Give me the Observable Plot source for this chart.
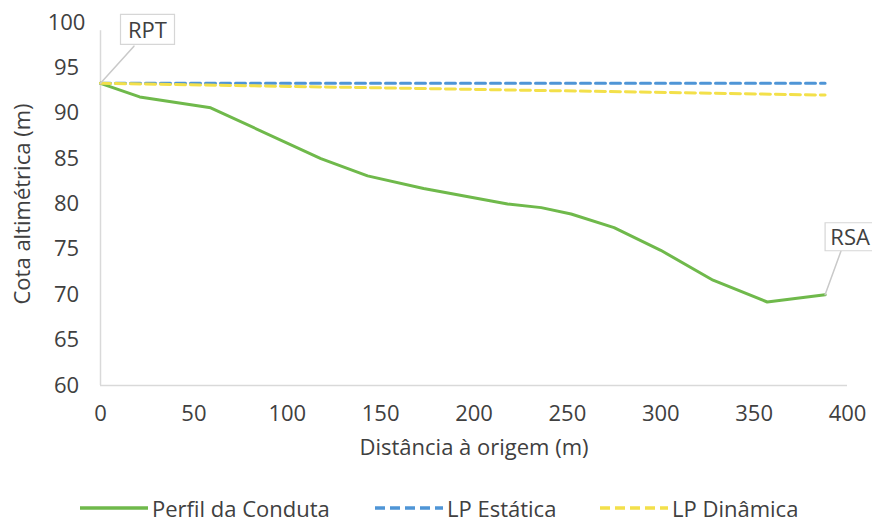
<!DOCTYPE html>
<html>
<head>
<meta charset="utf-8">
<script src="https://cdn.jsdelivr.net/npm/d3@7"></script>
<script src="https://cdn.jsdelivr.net/npm/@observablehq/plot@0.6"></script>
<style>
  html, body { margin: 0; padding: 0; background: #fff; }
  #wrap { position: relative; width: 872px; height: 524px; overflow: hidden; font-family: "Open Sans", sans-serif; color: #404040; }
  .leg { position: absolute; top: 493px; height: 30px; line-height: 30px; display: flex; align-items: center; font-size: 22px; color: #404040; white-space: nowrap; }
  .leg svg { margin-right: 4px; }
</style>
</head>
<body>
<div id="wrap"></div>
<script>
// ---- data ----
const distancia = [0, 21, 59, 118, 143, 173, 218, 236, 252, 275, 300, 328, 357, 388];
const perfil    = [93.3, 91.8, 90.6, 85.0, 83.1, 81.7, 80.0, 79.6, 78.9, 77.4, 74.9, 71.6, 69.2, 70.0];
const lpDistancia = [0, 388];
const lpEstatica  = [93.3, 93.3];
const lpDinamica  = [93.3, 92.0];
const seriesNames = ["Perfil da Conduta", "LP Estática", "LP Dinâmica"];
const seriesColors = ["#6fb94b", "#4f95d6", "#f3e04a"];
const xTicks = [0, 50, 100, 150, 200, 250, 300, 350, 400];
const yTicks = [60, 65, 70, 75, 80, 85, 90, 95, 100];
const pontos = [
  {label: "RPT", x: 0, y: 93.3},
  {label: "RSA", x: 388, y: 70.0}
];
const xLabel = "Distância à origem (m)";
const yLabel = "Cota altimétrica (m)";

// ---- build tables ----
const perfilData = distancia.map((d, i) => ({x: d, y: perfil[i]}));
const estData = lpDistancia.map((d, i) => ({x: d, y: lpEstatica[i]}));
const dinData = lpDistancia.map((d, i) => ({x: d, y: lpDinamica[i]}));

const leader = {draw(ctx, l) { ctx.moveTo(0, 0); ctx.lineTo(0, -l); }};
const boxRPT = {draw(ctx) { ctx.rect(-27, -15, 54, 30); }};
const boxRSA = {draw(ctx) { ctx.rect(-25, -14, 50, 28); }};

const chart = Plot.plot({
  width: 872,
  height: 470,
  marginLeft: 100,
  marginRight: 25,
  marginTop: 22,
  marginBottom: 85,
  style: {fontFamily: "Open Sans, sans-serif", fontSize: "22px", color: "#404040", background: "#fff", overflow: "visible"},
  x: {domain: [0, 400], ticks: xTicks, label: null},
  y: {domain: [60, 100], ticks: yTicks, label: null},
  marks: [
    Plot.ruleY([60], {stroke: "#d9d9d9", strokeWidth: 1.5}),
    Plot.ruleX([0], {y1: 99.1, y2: 60, stroke: "#d9d9d9", strokeWidth: 1.5}),
    Plot.axisX({ticks: xTicks, tickSize: 0, tickPadding: 20, fontSize: 22, label: null}),
    Plot.axisY({ticks: yTicks, tickSize: 0, tickPadding: 34, textAnchor: "middle", fontSize: 22, label: null}),
    Plot.text([xLabel], {frameAnchor: "bottom", textAnchor: "middle", dy: 62, lineAnchor: "middle", fontSize: 22, fill: "#404040"}),
    Plot.text([yLabel], {frameAnchor: "left", textAnchor: "middle", dx: -78, rotate: -90, lineAnchor: "middle", fontSize: 22, fill: "#404040"}),
    Plot.line(perfilData, {x: "x", y: "y", stroke: seriesColors[0], strokeWidth: 3}),
    Plot.line(estData, {x: "x", y: "y", stroke: seriesColors[1], strokeWidth: 3, strokeDasharray: "10,5"}),
    Plot.line(dinData, {x: "x", y: "y", stroke: seriesColors[2], strokeWidth: 3, strokeDasharray: "10,5"}),
    // callouts
    Plot.vector([pontos[0]], {x: "x", y: "y", length: 50, rotate: 42, anchor: "start", shape: leader, stroke: "#c9c9c9", strokeWidth: 1.5}),
    Plot.vector([pontos[1]], {x: "x", y: "y", length: 47, rotate: 20, anchor: "start", shape: leader, stroke: "#c9c9c9", strokeWidth: 1.5}),
    Plot.dot([pontos[0]], {x: "x", y: "y", dx: 47, dy: -54, symbol: boxRPT, fill: "#fff", stroke: "#d6d6d6", strokeWidth: 1.2}),
    Plot.dot([pontos[1]], {x: "x", y: "y", dx: 25, dy: -58, symbol: boxRSA, fill: "#fff", stroke: "#d6d6d6", strokeWidth: 1.2}),
    Plot.text([pontos[0]], {x: "x", y: "y", text: "label", dx: 47, dy: -52, fontSize: 22, fill: "#404040", lineAnchor: "middle"}),
    Plot.text([pontos[1]], {x: "x", y: "y", text: "label", dx: 25, dy: -57, fontSize: 22, fill: "#404040", lineAnchor: "middle"})
  ]
});

const wrap = document.getElementById("wrap");
wrap.appendChild(chart);

// ---- legend ----
const legendPos = [80, 375, 600];
const dashes = [null, "10,5", "10,5"];
seriesNames.forEach((name, i) => {
  const d = document.createElement("div");
  d.className = "leg";
  d.style.left = legendPos[i] + "px";
  d.innerHTML = `<svg width="68" height="6"><line x1="0" y1="3" x2="68" y2="3" stroke="${seriesColors[i]}" stroke-width="3.5" ${dashes[i] ? `stroke-dasharray="${dashes[i]}"` : ""}/></svg><span>${name}</span>`;
  wrap.appendChild(d);
});
</script>
</body>
</html>
